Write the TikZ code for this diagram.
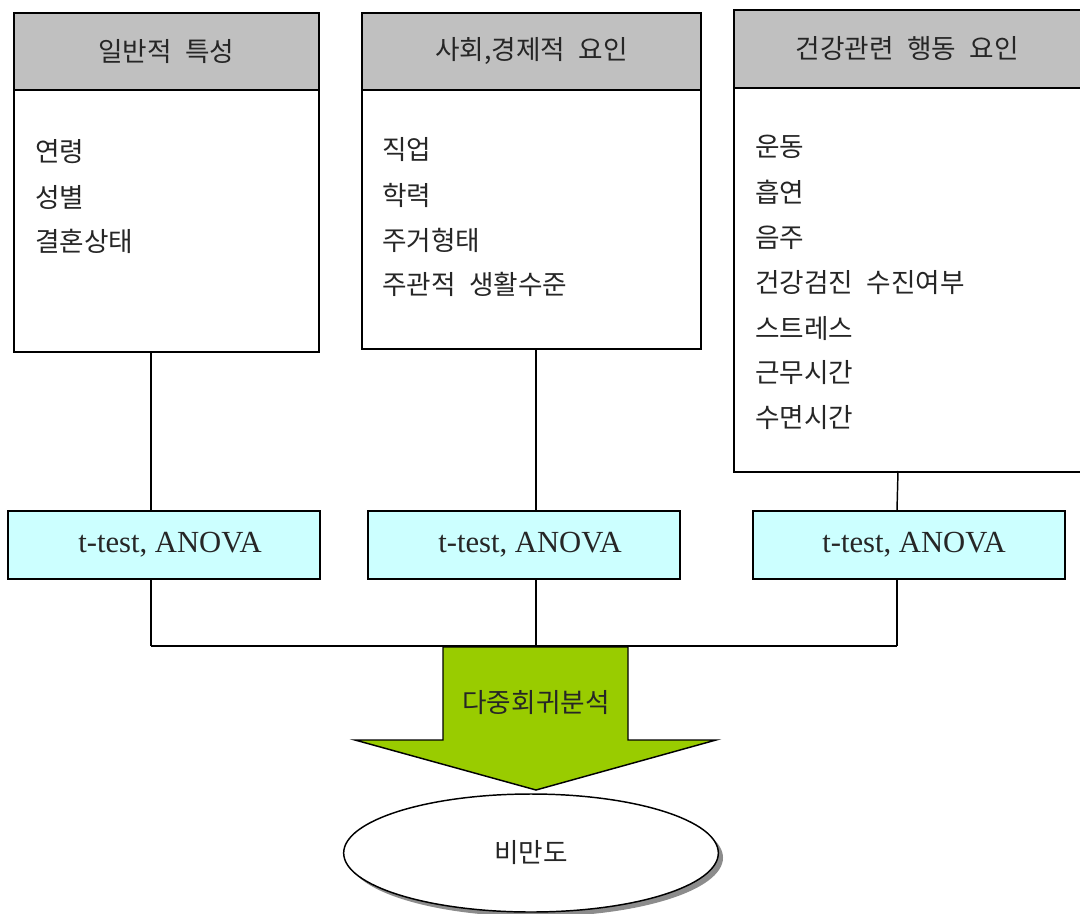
\documentclass[tikz,border=0pt]{standalone}
\usepackage{fontspec}
\setmainfont{Liberation Serif}
\newfontfamily\kr{Noto Sans CJK KR}
\usetikzlibrary{shapes.geometric,shadows}
\definecolor{hdrgray}{HTML}{C0C0C0}
\definecolor{testcyan}{HTML}{CCFFFF}
\definecolor{arrowgreen}{HTML}{99CC00}
\newcommand{\ksp}{\hspace{0.5em}}
\begin{document}
\begin{tikzpicture}[x=0.75pt,y=-0.75pt,
  lw/.style={line width=1.3pt},
  bodybox/.style={draw=black,lw,fill=white,anchor=north west,inner sep=0pt},
  hdrbox/.style={draw=black,lw,fill=hdrgray,anchor=north west,inner sep=0pt,
     font=\kr\fontsize{20}{24}\selectfont,text=black!85},
  item/.style={anchor=west,inner sep=0pt,font=\kr\fontsize{20}{24}\selectfont,text=black!85},
  testbox/.style={draw=black,lw,fill=testcyan,anchor=north west,inner sep=0pt,
     minimum width=234pt,minimum height=51pt},
  testtxt/.style={inner sep=0pt,font=\fontsize{23}{27}\selectfont,text=black!85},
  conn/.style={draw=black,line width=1.1pt}
]
\useasboundingbox (0,0) rectangle (1080,913);

% group boxes
\node[bodybox,minimum width=228.75pt,minimum height=254.25pt] (b1) at (13,12) {};
\node[hdrbox,minimum width=228.75pt,minimum height=57.75pt] (h1) at (13,12) {일반적\ksp 특성};
\node[bodybox,minimum width=254.25pt,minimum height=252pt] (b2) at (361,12) {};
\node[hdrbox,minimum width=254.25pt,minimum height=57.75pt] (h2) at (361,12) {사회,경제적\ksp 요인};
\node[bodybox,minimum width=260.25pt,minimum height=346.5pt] (b3) at (733,9) {};
\node[hdrbox,minimum width=260.25pt,minimum height=58.5pt] (h3) at (733,9) {건강관련\ksp 행동\ksp 요인};

% items
\node[item] (i11) at (35,152) {연령};
\node[item] (i12) at (35,197) {성별};
\node[item] (i13) at (35,241) {결혼상태};

\node[item] (i21) at (382,150) {직업};
\node[item] (i22) at (382,195) {학력};
\node[item] (i23) at (382,240) {주거형태};
\node[item] (i24) at (382,284) {주관적\ksp 생활수준};

\node[item] (i31) at (755,147) {운동};
\node[item] (i32) at (755,192) {흡연};
\node[item] (i33) at (755,238) {음주};
\node[item] (i34) at (755,283) {건강검진\ksp 수진여부};
\node[item] (i35) at (755,329) {스트레스};
\node[item] (i36) at (755,373) {근무시간};
\node[item] (i37) at (755,418) {수면시간};

% test boxes
\node[testbox] (t1) at (7,510) {};
\node[testbox] (t2) at (367,510) {};
\node[testbox] (t3) at (752,510) {};
\node[testtxt] (tt1) at (170,545) {t-test, ANOVA};
\node[testtxt] (tt2) at (530,545) {t-test, ANOVA};
\node[testtxt] (tt3) at (914,545) {t-test, ANOVA};

% junction coordinates
\coordinate (j1) at (151,646);
\coordinate (j2) at (536,646);
\coordinate (j3) at (897,646);

\draw[conn] (j1 |- b1.south) -- (j1 |- t1.north);
\draw[conn] (j2 |- b2.south) -- (j2 |- t2.north);
\draw[conn] (898,471) -- (j3 |- t3.north);
\draw[conn] (j1 |- t1.south) -- (j1);
\draw[conn] (j2 |- t2.south) -- (j2);
\draw[conn] (j3 |- t3.south) -- (j3);
\draw[conn] (j1) -- (j3);

% big arrow
\draw[fill=arrowgreen,draw=black,line width=1.1pt,line join=miter]
  (443,647) -- (628,647) -- (628,740) -- (716,740) -- (536,790) -- (355,740) -- (443,740) -- cycle;
\node[item,anchor=center] (ma) at (536,703) {다중회귀분석};

% ellipse
\node[ellipse,draw=black,line width=1.1pt,fill=white,minimum width=281pt,minimum height=88.5pt,
  inner sep=0pt,
  drop shadow={shadow xshift=3.5pt,shadow yshift=-3.5pt,fill=black!50,opacity=0.9},
  font=\kr\fontsize{20}{24}\selectfont,text=black!85] (out) at (531,853) {비만도};
\end{tikzpicture}
\end{document}
